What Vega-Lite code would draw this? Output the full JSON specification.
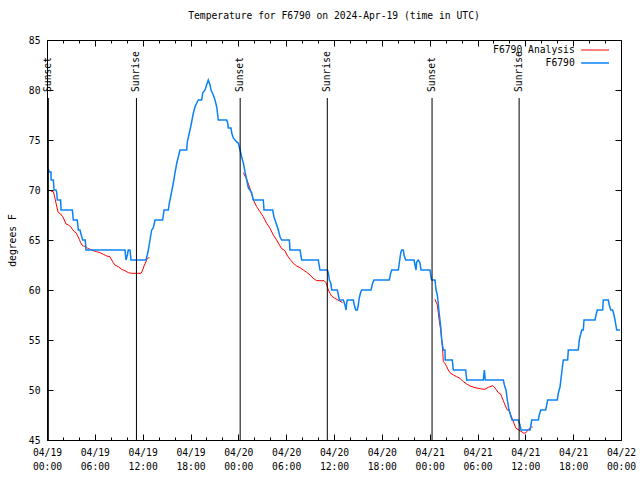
{
  "$schema": "https://vega.github.io/schema/vega-lite/v6.json",
  "width": 574,
  "height": 400,
  "autosize": {"type": "none"},
  "padding": {"left": 47, "top": 40, "right": 19, "bottom": 40},
  "background": "white",
  "title": {"text": "Temperature for F6790 on 2024-Apr-19 (time in UTC)", "font": "DejaVu Sans Mono", "fontSize": 9.7, "fontWeight": "normal", "color": "black", "anchor": "middle", "offset": 14},
  "config": {
    "view": {"stroke": "black", "strokeWidth": 1},
    "axis": {"grid": false, "domain": false, "tickColor": "black", "labelColor": "black", "titleColor": "black", "labelFont": "DejaVu Sans Mono", "titleFont": "DejaVu Sans Mono", "labelFontSize": 9.7, "titleFontSize": 9.7, "titleFontWeight": "normal", "tickWidth": 1}
  },
  "datasets": {
    "obs": [
      {"hour":0.16,"temp":72.1},{"hour":0.29,"temp":71.8},{"hour":0.5,"temp":71.8},{"hour":0.52,"temp":71},{"hour":0.8,"temp":71},{"hour":0.88,"temp":70},{"hour":1.13,"temp":70},{"hour":1.21,"temp":69.8},{"hour":1.3,"temp":69},{"hour":1.71,"temp":69},{"hour":1.76,"temp":68},{"hour":3.18,"temp":68},{"hour":3.3,"temp":67},{"hour":3.8,"temp":67},{"hour":3.93,"temp":66},{"hour":4.14,"temp":66},{"hour":4.26,"temp":65.6},{"hour":4.47,"temp":65},{"hour":4.8,"temp":65},{"hour":4.89,"temp":64},{"hour":9.78,"temp":64},{"hour":9.91,"temp":63},{"hour":10.08,"temp":63.5},{"hour":10.2,"temp":64},{"hour":10.41,"temp":64},{"hour":10.54,"temp":63},{"hour":12.42,"temp":63},{"hour":12.58,"temp":63.5},{"hour":12.71,"temp":64},{"hour":12.92,"temp":65},{"hour":13.13,"temp":66},{"hour":13.33,"temp":66.2},{"hour":13.55,"temp":67},{"hour":14.51,"temp":67},{"hour":14.68,"temp":68},{"hour":15.22,"temp":68},{"hour":15.35,"temp":68.7},{"hour":15.6,"temp":69.7},{"hour":15.85,"temp":70.7},{"hour":16.05,"temp":71.7},{"hour":16.28,"temp":72.7},{"hour":16.47,"temp":73.3},{"hour":16.68,"temp":74},{"hour":17.52,"temp":74},{"hour":17.6,"temp":74.8},{"hour":17.85,"temp":75.7},{"hour":18.02,"temp":76.3},{"hour":18.19,"temp":77},{"hour":18.36,"temp":77.7},{"hour":18.56,"temp":78.3},{"hour":18.78,"temp":78.7},{"hour":18.98,"temp":79},{"hour":19.4,"temp":79},{"hour":19.53,"temp":79.7},{"hour":19.82,"temp":80},{"hour":20.1,"temp":80.7},{"hour":20.23,"temp":81},{"hour":20.45,"temp":80.5},{"hour":20.57,"temp":80},{"hour":20.86,"temp":79.5},{"hour":21.07,"temp":79},{"hour":21.29,"temp":78.3},{"hour":21.49,"temp":77},{"hour":22.54,"temp":77},{"hour":22.67,"temp":76.7},{"hour":22.74,"temp":76.2},{"hour":23.08,"temp":76.2},{"hour":23.17,"temp":75.7},{"hour":23.37,"temp":75.2},{"hour":23.58,"temp":75},{"hour":23.8,"temp":74.8},{"hour":24.0,"temp":74.7},{"hour":24.21,"temp":74},{"hour":24.42,"temp":73.3},{"hour":24.63,"temp":72.7},{"hour":24.84,"temp":71.8},{"hour":25.05,"temp":71},{"hour":25.26,"temp":70.2},{"hour":25.46,"temp":70},{"hour":25.68,"temp":69.7},{"hour":25.88,"temp":69},{"hour":27.13,"temp":69},{"hour":27.22,"temp":68},{"hour":28.31,"temp":68},{"hour":28.47,"temp":67.3},{"hour":28.73,"temp":66.7},{"hour":29.02,"temp":66},{"hour":29.23,"temp":65.3},{"hour":29.44,"temp":65},{"hour":30.4,"temp":65},{"hour":30.48,"temp":64},{"hour":31.74,"temp":64},{"hour":31.95,"temp":63},{"hour":34.03,"temp":63},{"hour":34.24,"temp":62},{"hour":35.17,"temp":62},{"hour":35.29,"temp":61.7},{"hour":35.42,"temp":61},{"hour":35.59,"temp":60.7},{"hour":35.71,"temp":60},{"hour":36.42,"temp":60},{"hour":36.55,"temp":59.5},{"hour":36.67,"temp":59},{"hour":37.17,"temp":59},{"hour":37.38,"temp":58.5},{"hour":37.51,"temp":58},{"hour":37.59,"temp":58.7},{"hour":37.67,"temp":59},{"hour":38.42,"temp":59},{"hour":38.55,"temp":58.5},{"hour":38.72,"temp":58},{"hour":38.92,"temp":58},{"hour":39.05,"temp":58.5},{"hour":39.17,"temp":59.2},{"hour":39.35,"temp":59.8},{"hour":39.47,"temp":60},{"hour":40.64,"temp":60},{"hour":40.85,"temp":60.7},{"hour":41.02,"temp":61},{"hour":42.94,"temp":61},{"hour":43.11,"temp":61.7},{"hour":43.24,"temp":62},{"hour":44.07,"temp":62},{"hour":44.19,"temp":62.7},{"hour":44.37,"temp":63.7},{"hour":44.49,"temp":64},{"hour":44.7,"temp":64},{"hour":44.78,"temp":63.5},{"hour":44.99,"temp":63},{"hour":46.04,"temp":63},{"hour":46.16,"temp":62.5},{"hour":46.29,"temp":62},{"hour":46.37,"temp":62.8},{"hour":46.58,"temp":63},{"hour":46.79,"temp":62.7},{"hour":46.91,"temp":62},{"hour":48.04,"temp":62},{"hour":48.17,"temp":61.3},{"hour":48.25,"temp":61},{"hour":48.67,"temp":61},{"hour":48.8,"temp":60},{"hour":48.96,"temp":59.5},{"hour":49.09,"temp":58.5},{"hour":49.22,"temp":57.5},{"hour":49.39,"temp":56.3},{"hour":49.51,"temp":55},{"hour":49.71,"temp":54},{"hour":49.92,"temp":54},{"hour":49.95,"temp":53},{"hour":50.84,"temp":53},{"hour":50.97,"temp":52},{"hour":52.52,"temp":52},{"hour":52.65,"temp":51},{"hour":54.73,"temp":51},{"hour":54.86,"temp":52},{"hour":54.98,"temp":51},{"hour":57.24,"temp":51},{"hour":57.37,"temp":50.5},{"hour":57.58,"temp":50},{"hour":57.74,"temp":49},{"hour":57.95,"temp":48},{"hour":58.33,"temp":47},{"hour":59.12,"temp":47},{"hour":59.33,"temp":46.5},{"hour":59.46,"temp":46},{"hour":60.59,"temp":46},{"hour":60.71,"temp":46.5},{"hour":60.8,"temp":47},{"hour":61.63,"temp":47},{"hour":61.75,"temp":47.5},{"hour":61.93,"temp":48},{"hour":62.55,"temp":48},{"hour":62.68,"temp":48.5},{"hour":62.8,"temp":49},{"hour":64.01,"temp":49},{"hour":64.14,"temp":49.7},{"hour":64.35,"temp":50.3},{"hour":64.56,"temp":51.7},{"hour":64.68,"temp":52.5},{"hour":64.76,"temp":53},{"hour":65.31,"temp":53},{"hour":65.39,"temp":54},{"hour":66.64,"temp":54},{"hour":66.77,"temp":55},{"hour":67.07,"temp":56},{"hour":67.27,"temp":56},{"hour":67.36,"temp":57},{"hour":68.74,"temp":57},{"hour":68.87,"temp":57.5},{"hour":69.03,"temp":58},{"hour":69.7,"temp":58},{"hour":69.78,"temp":59},{"hour":70.41,"temp":59},{"hour":70.53,"temp":58.5},{"hour":70.71,"temp":58},{"hour":70.96,"temp":58},{"hour":71.12,"temp":57.5},{"hour":71.25,"temp":57},{"hour":71.46,"temp":56},{"hour":71.87,"temp":56}
    ],
    "ana": [
      {"seg":1,"hour":0.5,"temp":69.9},{"seg":1,"hour":0.8,"temp":69.83},{"seg":1,"hour":1.0,"temp":69.17},{"seg":1,"hour":1.21,"temp":68.4},{"seg":1,"hour":1.42,"temp":67.73},{"seg":1,"hour":1.71,"temp":67.6},{"seg":1,"hour":1.97,"temp":67.33},{"seg":1,"hour":2.17,"temp":67.0},{"seg":1,"hour":2.38,"temp":66.6},{"seg":1,"hour":2.68,"temp":66.5},{"seg":1,"hour":2.97,"temp":66.33},{"seg":1,"hour":3.18,"temp":66.07},{"seg":1,"hour":3.43,"temp":65.83},{"seg":1,"hour":3.64,"temp":65.73},{"seg":1,"hour":3.85,"temp":65.4},{"seg":1,"hour":4.05,"temp":65.07},{"seg":1,"hour":4.22,"temp":64.73},{"seg":1,"hour":4.39,"temp":64.5},{"seg":1,"hour":4.56,"temp":64.4},{"seg":1,"hour":4.89,"temp":64.33},{"seg":1,"hour":5.1,"temp":64.17},{"seg":1,"hour":5.39,"temp":64.07},{"seg":1,"hour":5.81,"temp":63.93},{"seg":1,"hour":6.23,"temp":63.83},{"seg":1,"hour":6.65,"temp":63.73},{"seg":1,"hour":7.07,"temp":63.57},{"seg":1,"hour":7.49,"temp":63.4},{"seg":1,"hour":7.9,"temp":63.33},{"seg":1,"hour":8.11,"temp":63.0},{"seg":1,"hour":8.32,"temp":62.73},{"seg":1,"hour":8.53,"temp":62.5},{"seg":1,"hour":8.95,"temp":62.33},{"seg":1,"hour":9.37,"temp":62.07},{"seg":1,"hour":9.78,"temp":61.93},{"seg":1,"hour":10.2,"temp":61.73},{"seg":1,"hour":10.62,"temp":61.67},{"seg":1,"hour":11.8,"temp":61.67},{"seg":1,"hour":12.0,"temp":62.0},{"seg":1,"hour":12.17,"temp":62.4},{"seg":1,"hour":12.42,"temp":62.83},{"seg":1,"hour":12.58,"temp":63.17},{"seg":1,"hour":12.83,"temp":63.23},
      {"seg":2,"hour":24.63,"temp":71.73},{"seg":2,"hour":25.05,"temp":71.07},{"seg":2,"hour":25.46,"temp":70.17},{"seg":2,"hour":25.88,"temp":69.0},{"seg":2,"hour":26.3,"temp":68.33},{"seg":2,"hour":26.72,"temp":67.83},{"seg":2,"hour":27.13,"temp":67.33},{"seg":2,"hour":27.55,"temp":66.67},{"seg":2,"hour":27.97,"temp":66.17},{"seg":2,"hour":28.39,"temp":65.5},{"seg":2,"hour":28.8,"temp":65.0},{"seg":2,"hour":29.4,"temp":64.17},{"seg":2,"hour":29.85,"temp":63.93},{"seg":2,"hour":30.1,"temp":63.5},{"seg":2,"hour":30.48,"temp":63.07},{"seg":2,"hour":30.9,"temp":62.67},{"seg":2,"hour":31.32,"temp":62.4},{"seg":2,"hour":31.74,"temp":62.23},{"seg":2,"hour":32.15,"temp":62.0},{"seg":2,"hour":32.57,"temp":61.77},{"seg":2,"hour":32.99,"temp":61.5},{"seg":2,"hour":33.4,"temp":61.17},{"seg":2,"hour":33.8,"temp":60.95},{"seg":2,"hour":34.24,"temp":60.93},{"seg":2,"hour":34.75,"temp":60.93},{"seg":2,"hour":35.0,"temp":60.73},{"seg":2,"hour":35.16,"temp":60.33},{"seg":2,"hour":35.3,"temp":60.0},{"seg":2,"hour":35.5,"temp":59.67},{"seg":2,"hour":35.7,"temp":59.4},{"seg":2,"hour":36.1,"temp":59.17},{"seg":2,"hour":36.5,"temp":59.0},{"seg":2,"hour":37.08,"temp":58.73},
      {"seg":3,"hour":48.67,"temp":59.07},{"seg":3,"hour":48.96,"temp":58.5},{"seg":3,"hour":49.09,"temp":57.67},{"seg":3,"hour":49.22,"temp":56.83},{"seg":3,"hour":49.39,"temp":56.0},{"seg":3,"hour":49.51,"temp":55.0},{"seg":3,"hour":49.63,"temp":54.0},{"seg":3,"hour":49.71,"temp":52.83},{"seg":3,"hour":49.92,"temp":52.67},{"seg":3,"hour":50.14,"temp":52.33},{"seg":3,"hour":50.34,"temp":52.0},{"seg":3,"hour":50.55,"temp":51.73},{"seg":3,"hour":50.97,"temp":51.5},{"seg":3,"hour":51.39,"temp":51.33},{"seg":3,"hour":51.81,"temp":51.17},{"seg":3,"hour":52.22,"temp":50.83},{"seg":3,"hour":52.65,"temp":50.6},{"seg":3,"hour":53.06,"temp":50.4},{"seg":3,"hour":53.69,"temp":50.23},{"seg":3,"hour":54.53,"temp":50.1},{"seg":3,"hour":54.94,"temp":50.07},{"seg":3,"hour":55.36,"temp":50.27},{"seg":3,"hour":55.91,"temp":50.43},{"seg":3,"hour":56.07,"temp":50.33},{"seg":3,"hour":56.32,"temp":50.07},{"seg":3,"hour":56.61,"temp":49.73},{"seg":3,"hour":56.91,"temp":49.6},{"seg":3,"hour":57.03,"temp":49.33},{"seg":3,"hour":57.24,"temp":48.93},{"seg":3,"hour":57.45,"temp":48.5},{"seg":3,"hour":57.74,"temp":48.0},{"seg":3,"hour":57.99,"temp":47.93},{"seg":3,"hour":58.17,"temp":47.5},{"seg":3,"hour":58.42,"temp":47.0},{"seg":3,"hour":58.58,"temp":46.67},{"seg":3,"hour":58.83,"temp":46.17},{"seg":3,"hour":59.33,"temp":45.93},{"seg":3,"hour":59.84,"temp":45.67},{"seg":3,"hour":60.09,"temp":45.73},{"seg":3,"hour":60.25,"temp":45.93},{"seg":3,"hour":60.5,"temp":46.17},{"seg":3,"hour":60.8,"temp":46.33},{"seg":3,"hour":60.92,"temp":46.27}
    ],
    "sun": [
      {"event":"Sunset","hour":0.17},{"event":"Sunrise","hour":11.22},{"event":"Sunset","hour":24.23},{"event":"Sunrise","hour":35.16},{"event":"Sunset","hour":48.3},{"event":"Sunrise","hour":59.22}
    ]
  },
  "layer": [
    {
      "data": {"name": "ana"},
      "mark": {"type": "line", "color": "#ff0000", "strokeWidth": 1},
      "encoding": {
        "x": {"field": "hour", "type": "quantitative", "scale": {"domain": [0, 72], "nice": false, "zero": false},
          "axis": {"orient": "bottom", "title": null, "values": [0, 6, 12, 18, 24, 30, 36, 42, 48, 54, 60, 66, 72], "tickSize": -6, "labelPadding": 13, "labelFlush": false, "labelOverlap": false, "labelBound": false, "labelAngle": 0, "labelBaseline": "top", "labelLineHeight": 14,
            "labelExpr": "['04/' + (19 + floor(datum.value / 24)), (datum.value % 24 < 10 ? '0' : '') + (datum.value % 24) + ':00']"}},
        "y": {"field": "temp", "type": "quantitative", "scale": {"domain": [45, 85], "nice": false, "zero": false},
          "axis": {"orient": "left", "title": "degrees F", "values": [45, 50, 55, 60, 65, 70, 75, 80, 85], "tickSize": -6, "labelPadding": 13, "labelFlush": false, "labelOverlap": false, "titleX": -35, "titleY": 200, "titleAngle": 270, "titleAlign": "center", "titleBaseline": "middle"}},
        "detail": {"field": "seg", "type": "nominal"}
      }
    },
    {
      "data": {"name": "obs"},
      "mark": {"type": "line", "color": "#0a82f5", "strokeWidth": 1.5},
      "encoding": {
        "x": {"field": "hour", "type": "quantitative", "scale": {"domain": [0, 72], "nice": false, "zero": false}, "axis": null},
        "y": {"field": "temp", "type": "quantitative", "scale": {"domain": [45, 85], "nice": false, "zero": false}, "axis": null}
      }
    },
    {
      "data": {"name": "sun"},
      "mark": {"type": "rule", "color": "black", "strokeWidth": 1},
      "encoding": {
        "x": {"field": "hour", "type": "quantitative", "axis": null},
        "y": {"datum": 45, "type": "quantitative", "axis": null},
        "y2": {"datum": 79.2}
      }
    },
    {
      "data": {"name": "sun"},
      "mark": {"type": "text", "angle": 270, "align": "left", "baseline": "middle", "font": "DejaVu Sans Mono", "fontSize": 9.7, "color": "black"},
      "encoding": {
        "x": {"field": "hour", "type": "quantitative", "axis": null},
        "y": {"datum": 79.8, "type": "quantitative", "axis": null},
        "text": {"field": "event"}
      }
    },
    {
      "data": {"values": [{}]},
      "mark": {"type": "text", "text": "F6790 Analysis", "align": "right", "baseline": "middle", "font": "DejaVu Sans Mono", "fontSize": 9.7, "color": "black"},
      "encoding": {
        "x": {"datum": 66.2, "type": "quantitative", "axis": null},
        "y": {"datum": 84.0, "type": "quantitative", "axis": null}
      }
    },
    {
      "data": {"values": [{}]},
      "mark": {"type": "rule", "color": "#ff0000", "strokeWidth": 1},
      "encoding": {
        "x": {"datum": 67.0, "type": "quantitative", "axis": null},
        "x2": {"datum": 70.5},
        "y": {"datum": 84.0, "type": "quantitative", "axis": null}
      }
    },
    {
      "data": {"values": [{}]},
      "mark": {"type": "text", "text": "F6790", "align": "right", "baseline": "middle", "font": "DejaVu Sans Mono", "fontSize": 9.7, "color": "black"},
      "encoding": {
        "x": {"datum": 66.2, "type": "quantitative", "axis": null},
        "y": {"datum": 82.7, "type": "quantitative", "axis": null}
      }
    },
    {
      "data": {"values": [{}]},
      "mark": {"type": "rule", "color": "#0a82f5", "strokeWidth": 1.5},
      "encoding": {
        "x": {"datum": 67.0, "type": "quantitative", "axis": null},
        "x2": {"datum": 70.5},
        "y": {"datum": 82.7, "type": "quantitative", "axis": null}
      }
    },
    {
      "data": {"name": "obs"},
      "mark": {"type": "point", "opacity": 0},
      "encoding": {
        "x": {"field": "hour", "type": "quantitative", "axis": {"orient": "top", "title": null, "labels": false, "values": [0, 6, 12, 18, 24, 30, 36, 42, 48, 54, 60, 66, 72], "tickSize": -6}},
        "y": {"field": "temp", "type": "quantitative", "axis": {"orient": "right", "title": null, "labels": false, "values": [45, 50, 55, 60, 65, 70, 75, 80, 85], "tickSize": -6}}
      }
    },
    {
      "data": {"name": "obs"},
      "mark": {"type": "point", "opacity": 0},
      "encoding": {
        "x": {"field": "hour", "type": "quantitative", "axis": {"orient": "bottom", "title": null, "labels": false, "values": [2, 4, 8, 10, 14, 16, 20, 22, 26, 28, 32, 34, 38, 40, 44, 46, 50, 52, 56, 58, 62, 64, 68, 70], "tickSize": -3}},
        "y": {"field": "temp", "type": "quantitative", "axis": null}
      }
    },
    {
      "data": {"name": "obs"},
      "mark": {"type": "point", "opacity": 0},
      "encoding": {
        "x": {"field": "hour", "type": "quantitative", "axis": {"orient": "top", "title": null, "labels": false, "values": [2, 4, 8, 10, 14, 16, 20, 22, 26, 28, 32, 34, 38, 40, 44, 46, 50, 52, 56, 58, 62, 64, 68, 70], "tickSize": -3}},
        "y": {"field": "temp", "type": "quantitative", "axis": null}
      }
    }
  ],
  "resolve": {"axis": {"x": "independent", "y": "independent"}}
}
